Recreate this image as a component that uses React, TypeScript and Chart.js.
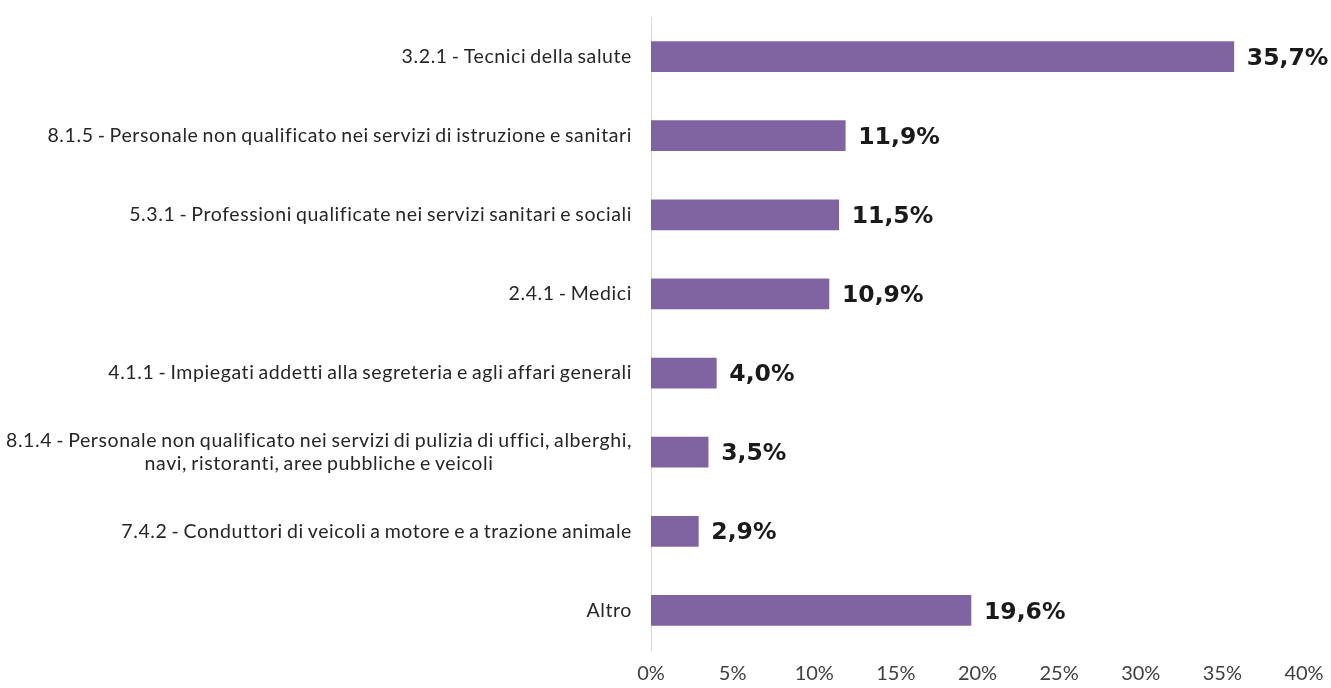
import React, { useEffect, useRef } from "react";
import { Chart, registerables } from "chart.js";
Chart.register(...registerables);

const categories: string[][] = [
  ["3.2.1 - Tecnici della salute"],
  ["8.1.5 - Personale non qualificato nei servizi di istruzione e sanitari"],
  ["5.3.1 - Professioni qualificate nei servizi sanitari e sociali"],
  ["2.4.1 - Medici"],
  ["4.1.1 - Impiegati addetti alla segreteria e agli affari generali"],
  [
    "8.1.4 - Personale non qualificato nei servizi di pulizia di uffici, alberghi,",
    "navi, ristoranti, aree pubbliche e veicoli",
  ],
  ["7.4.2 - Conduttori di veicoli a motore e a trazione animale"],
  ["Altro"],
];
const values: number[] = [35.7, 11.9, 11.5, 10.9, 4.0, 3.5, 2.9, 19.6];
const xMin = 0;
const xMax = 40;
const xStep = 5;

const BAR_COLOR = "#8064A2";
const LABEL_FONT = "19.5px Lato";
const VALUE_FONT = "bold 23.5px 'DejaVu Sans'";

const fmt = (v: number) => v.toFixed(1).replace(".", ",") + "%";

const yLabelPlugin = {
  id: "yLabels",
  afterDraw(chart: any) {
    const ctx = chart.ctx;
    const y = chart.scales.y;
    const right = chart.chartArea.left - 19;
    ctx.save();
    ctx.font = LABEL_FONT;
    (ctx as any).letterSpacing = "0.6px";
    (ctx as any).wordSpacing = "-1.5px";
    ctx.fillStyle = "#262626";
    ctx.textBaseline = "middle";
    ctx.textAlign = "center";
    const lh = 23;
    categories.forEach((lines, i) => {
      const cy = y.getPixelForValue(i);
      const widths = lines.map((l) => ctx.measureText(l).width);
      const bw = Math.max(...widths);
      const cx = right - bw / 2;
      const top = cy - ((lines.length - 1) * lh) / 2;
      lines.forEach((l, j) => ctx.fillText(l, cx, top + j * lh));
    });
    ctx.restore();
  },
};

const valueLabelPlugin = {
  id: "valueLabels",
  afterDatasetsDraw(chart: any) {
    const ctx = chart.ctx;
    const meta = chart.getDatasetMeta(0);
    ctx.save();
    ctx.font = VALUE_FONT;
    ctx.fillStyle = "#1a1a1a";
    ctx.textBaseline = "middle";
    ctx.textAlign = "left";
    meta.data.forEach((bar: any, i: number) => {
      ctx.fillText(fmt(values[i]), bar.x + 13, bar.y + 2);
    });
    ctx.restore();
  },
};

export default function App() {
  const ref = useRef<HTMLCanvasElement>(null);
  useEffect(() => {
    document.body.style.margin = "0";
    const chart = new Chart(ref.current!, {
      type: "bar",
      data: {
        labels: categories.map((c) => c.join(" ")),
        datasets: [
          {
            data: values,
            backgroundColor: BAR_COLOR,
            borderWidth: 0,
            barThickness: 30,
          },
        ],
      },
      options: {
        indexAxis: "y",
        animation: false,
        responsive: false,
        layout: { padding: { top: 17, right: 27, left: 0, bottom: 0 } },
        plugins: { legend: { display: false }, tooltip: { enabled: false } },
        scales: {
          x: {
            min: xMin,
            max: xMax,
            grid: { display: false, drawTicks: false },
            border: { display: false },
            ticks: {
              stepSize: xStep,
              padding: 12,
              color: "#404040",
              font: { family: "Lato", size: 20 },
              callback: (v: any) => v + "%",
            },
            afterFit: (s: any) => {
              s.height = 38;
              s.paddingRight = 0;
              s.paddingLeft = 0;
            },
          },
          y: {
            grid: { display: false, drawTicks: false },
            border: { display: true, color: "#d9d9d9", width: 1 },
            ticks: { display: false },
            afterFit: (s: any) => {
              s.width = 651;
            },
          },
        },
      },
      plugins: [yLabelPlugin, valueLabelPlugin],
    });
    return () => chart.destroy();
  }, []);
  return (
    <div style={{ width: 1331, height: 688, background: "#fff" }}>
      <canvas ref={ref} width={1331} height={688} />
    </div>
  );
}
